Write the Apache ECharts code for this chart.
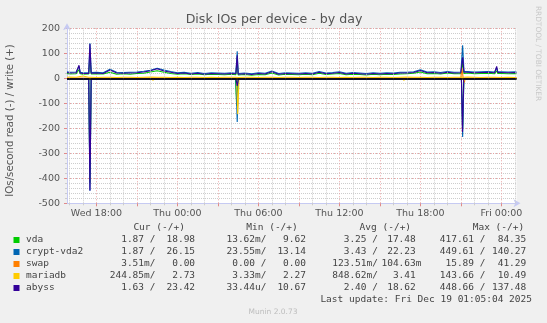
<!DOCTYPE html>
<html>
<head>
<meta charset="utf-8">
<script src="https://cdn.jsdelivr.net/npm/echarts@6/dist/echarts.min.js"></script>
<style>
html,body{margin:0;padding:0;background:#f0f0f0;}
#c{width:547px;height:323px;}
</style>
</head>
<body>
<div id="c"></div>
<script>
// ---- sample times (hours since Wed 00:00) ----
const hours = [15.82,16.0,16.5,17.0,17.5,18.0,18.5,19.0,19.5,20.0,20.5,21.0,21.5,22.0,22.5,23.0,23.5,
  24.0,24.5,25.0,25.5,26.0,26.5,27.0,27.5,28.0,28.5,29.0,29.5,30.0,30.5,31.0,31.5,32.0,32.5,33.0,33.5,
  34.0,34.5,35.0,35.5,36.0,36.5,37.0,37.5,38.0,38.5,39.0,39.5,40.0,40.5,41.0,41.5,42.0,42.5,43.0,43.5,
  44.0,44.5,45.0,45.5,46.0,46.5,47.0,47.5,48.0,48.5,49.0,49.12];

// ---- write (+) baselines ----
const vdaWrite = [19,17,18,16, 16,18,17,24,16, 18,16,19,20, 25,30,24,19, 16,18,15,17,14,16,15,14,16,
  13,15,12,15,14,21, 13,16,15,14,16,14,20,15,17, 19,14,16,15,13,16,14,16,15,17, 18,20,25,18,19,17,21,18,
  18,21,18,19,20,18,19,18,19,18,19];
const cryptWrite = [26,24,25,22, 23,24,22,36,24, 23,24,25,28, 32,40,33,27, 22,24,20,23,19,22,21,20,22,
  19,21,18,22,20,29, 19,22,21,20,22,20,27,21,23, 26,20,23,21,19,22,20,22,21,24, 24,26,34,25,26,23,27,24,
  25,27,25,26,27,25,26,25,26,25,26];
const abyssWrite = [23,21,22,19, 20,21,19,33,21, 20,21,22,25, 30,38,29,24, 19,21,17,20,16,19,18,17,19,
  16,18,15,19,17,26, 16,19,18,17,19,17,24,18,20, 23,17,20,18,16,19,17,19,18,21, 21,23,31,22,23,20,24,21,
  22,24,22,23,24,22,23,22,23,22,23];
const mariadbWrite = [4,5,4,9,4,3,4,4,3,4,4,3,4,5,4,4,3,4,3,4,4,3,4,3,4,4,3,4,4,3,4,4,3,4,4,3,4,4,3,4,
  4,3,4,3,4,4,3,4,4,3,4,5,4,4,3,4,4,3,4,4,5,4,3,4,4,3,4,3,3];

// ---- write spikes [hour, value] ----
const vdaWriteSpikes = [[16.62,18],[16.71,35],[16.8,18],[17.43,17],[17.52,84.35],[17.61,17],
  [28.33,14],[28.43,70],[28.53,14],[45.03,18],[45.13,62],[45.23,19],[47.56,19],[47.65,30],[47.74,19]];
const cryptWriteSpikes = [[16.62,24],[16.71,48],[16.8,24],[17.43,22],[17.52,140.27],[17.61,23],
  [28.33,20],[28.43,108],[28.53,20],[45.03,24],[45.13,132],[45.23,27],[47.56,26],[47.65,42],[47.74,26]];
const abyssWriteSpikes = [[16.62,21],[16.71,52],[16.8,21],[17.43,19],[17.52,137.48],[17.61,20],
  [28.33,18],[28.43,92],[28.53,17],[45.03,21],[45.13,84],[45.23,24],[47.56,23],[47.65,48],[47.74,23]];
const mariadbWriteSpikes = [[17.43,4],[17.52,10.49],[17.61,4],[28.33,4],[28.43,6],[28.53,4],
  [45.03,4],[45.13,8],[45.23,4]];
const swapWrite = [[15.82,0],[44.99,0],[45.08,41.29],[45.17,0],[49.12,0]];

// ---- read (-) values [hour, value] ----
const vdaRead = [[15.82,-3],[17.43,-3],[17.52,-417.61],[17.61,-3],[28.3,-3],[28.39,-110],[28.48,-3],
  [45.04,-3],[45.13,-200],[45.22,-3],[49.12,-1.87]];
const cryptRead = [[15.82,-3.4],[17.43,-3.4],[17.52,-449.61],[17.61,-3.4],[28.34,-3.4],[28.43,-175],[28.52,-3.4],
  [45.04,-3.4],[45.13,-235],[45.22,-3.4],[49.12,-1.87]];
const abyssRead = [[15.82,-2.4],[17.43,-2.4],[17.52,-448.66],[17.61,-2.4],[28.34,-2.4],[28.43,-30],[28.52,-2.4],
  [45.04,-2.4],[45.12,-215],[45.21,-2.4],[49.12,-1.63]];
const mariadbRead = [[15.82,-0.8],[17.1,-0.8],[17.15,-8],[17.2,-0.8],[18.51,-0.8],[18.56,-7],[18.61,-0.8],
  [22.14,-0.8],[22.19,-9],[22.24,-0.8],[22.88,-0.8],[22.93,-7],[22.98,-0.8],[28.38,-0.8],[28.47,-143.66],[28.56,-0.8],
  [31.18,-0.8],[31.23,-8],[31.28,-0.8],[37.92,-0.8],[37.97,-8],[38.02,-0.8],[40.73,-0.8],[40.78,-9],[40.83,-0.8],
  [43.18,-0.8],[43.23,-7],[43.28,-0.8],[45.2,-0.8],[45.25,-10],[45.3,-0.8],[47.7,-0.8],[47.75,-8],[47.8,-0.8],[49.12,-0.25]];
const swapRead = [[15.82,-0.1],[17.84,-0.1],[17.89,-5],[17.94,-0.1],[18.66,-0.1],[18.71,-5],[18.76,-0.1],
  [45.2,-0.1],[45.26,-15.89],[45.32,-0.1],[49.12,0]];

// ---- axes ----
const xMin = 15.82, xMax = 49.12;
const minorHours = [16,17,18,19,20,21,22,23,24,25,26,27,28,29,30,31,32,33,34,35,36,37,38,39,40,41,42,43,44,45,46,47,48,49];
const majorHours = [18,21,24,27,30,33,36,39,42,45,48];
const xLabelHours = [18,24,30,36,42,48];
const xLabels = ['Wed 18:00','Thu 00:00','Thu 06:00','Thu 12:00','Thu 18:00','Fri 00:00'];

// ---- legend table ----
const names = ['vda','crypt-vda2','swap','mariadb','abyss'];
const colors = ['#00cc00','#0066b3','#ff8000','#ffcc00','#330099'];
const headers = ['Cur (-/+)','Min (-/+)','Avg (-/+)','Max (-/+)'];
const curText = [['1.87 /','18.98 '],['1.87 /','26.15 '],['3.51m/','0.00 '],['244.85m/','2.73 '],['1.63 /','23.42 ']];
const minText = [['13.62m/','9.62 '],['23.55m/','13.14 '],['0.00 /','0.00 '],['3.33m/','2.27 '],['33.44u/','10.67 ']];
const avgText = [['3.25 /','17.48 '],['3.43 /','22.23 '],['123.51m/','104.63m'],['848.62m/','3.41 '],['2.40 /','18.62 ']];
const maxText = [['417.61 /','84.35 '],['449.61 /','140.27 '],['15.89 /','41.29 '],['143.66 /','10.49 '],['448.66 /','137.48 ']];
const lastUpdate = 'Last update: Fri Dec 19 01:05:04 2025';

function merge(base, extra){
  return hours.map((h,i)=>[h, base[i]]).concat(extra).sort((a,b)=>a[0]-b[0]);
}

const chart = echarts.init(document.getElementById('c'), null, {renderer:'canvas', width:547, height:323});
const LAV = '#c6caf2';
const MAJ = '#eaa2a2';
const MIN = '#cdcdcd';
const FONT = 'DejaVu Sans';
const MONO = 'DejaVu Sans Mono';

function line(name, data, color){
  return {name, type:'line', xAxisIndex:1, yAxisIndex:1, data, showSymbol:false, symbol:'none',
    lineStyle:{color, width:1.1}, itemStyle:{color}, animation:false, silent:true};
}

const minorOnly = minorHours.filter(h=>majorHours.indexOf(h)<0);

const series = [
  {type:'line', xAxisIndex:1, yAxisIndex:1, data:[], silent:true, animation:false, z:1,
   markLine:{silent:true, symbol:'none', label:{show:false}, animation:false,
     lineStyle:{color:MIN, width:1, type:[1,1]}, data:minorOnly.map(h=>({xAxis:h}))}},
  {type:'line', xAxisIndex:1, yAxisIndex:1, data:[], silent:true, animation:false,
   markLine:{silent:true, symbol:'none', label:{show:false}, animation:false,
     lineStyle:{color:'#000', width:1.6, type:'solid'}, data:[{yAxis:0}]}},
  line('vda', merge(vdaWrite, vdaWriteSpikes), colors[0]),
  line('vda', vdaRead, colors[0]),
  line('crypt-vda2', merge(cryptWrite, cryptWriteSpikes), colors[1]),
  line('crypt-vda2', cryptRead, colors[1]),
  line('swap', swapWrite, colors[2]),
  line('swap', swapRead, colors[2]),
  line('mariadb', merge(mariadbWrite, mariadbWriteSpikes), colors[3]),
  line('mariadb', mariadbRead, colors[3]),
  line('abyss', merge(abyssWrite, abyssWriteSpikes), colors[4]),
  line('abyss', abyssRead, colors[4])
];

// legend graphics
const readEnd = [155.5, 266.5, 378, 485.5];
const writeEnd = [200.8, 311.7, 421.5, 532];
const headerStart = [133.4, 246.3, 359.6, 472.7];
const rowY = [240, 252, 264, 276, 288];
const cols = [curText, minText, avgText, maxText];
const g = [];
const txt = (x,y,text,opts)=>({type:'text', x, y, silent:true, style:Object.assign({text, fill:'#444',
  fontSize:9.5, fontFamily:MONO, align:'left', verticalAlign:'middle'}, opts||{})});
headers.forEach((h,i)=>g.push(txt(headerStart[i], 227.3, h)));
names.forEach((n,r)=>{
  g.push({type:'rect', silent:true, shape:{x:13.5, y:rowY[r]-3, width:6, height:6}, style:{fill:colors[r]}});
  g.push(txt(26, rowY[r], n));
  cols.forEach((col,c)=>{
    g.push(txt(readEnd[c], rowY[r], col[r][0], {align:'right'}));
    g.push(txt(writeEnd[c], rowY[r], col[r][1], {align:'right'}));
  });
});
g.push(txt(532, 299.5, lastUpdate, {align:'right'}));
g.push(txt(273, 312.3, 'Munin 2.0.73', {align:'center', fontFamily:FONT, fontSize:7.5, fill:'#bdbdbd'}));
g.push(txt(274, 19.5, 'Disk IOs per device - by day', {align:'center', fontFamily:FONT, fontSize:12.6, fill:'#555'}));
g.push({type:'text', x:10.5, y:120.5, rotation:Math.PI/2, silent:true,
  style:{text:'IOs/second read (-) / write (+)', fill:'#555', fontSize:10.2, fontFamily:FONT, align:'center', verticalAlign:'middle'}});
g.push({type:'text', x:538, y:53.5, rotation:-Math.PI/2, silent:true,
  style:{text:'RRDTOOL / TOBI OETIKER', fill:'#c8c8c8', fontSize:7.4, fontFamily:FONT, align:'center', verticalAlign:'middle'}});

const option = {
  backgroundColor:'#f0f0f0',
  animation:false,
  grid:{left:67, top:28.3, width:449.5, height:175, show:true, backgroundColor:'#ffffff', borderWidth:0, containLabel:false},
  xAxis:[
    {type:'value', min:xMin, max:xMax, position:'bottom',
     axisLine:{show:false, onZero:false},
     axisTick:{show:true, customValues:minorHours, length:2, lineStyle:{color:'#cccccc'}},
     axisLabel:{show:false},
     splitLine:{show:false}},
    {type:'value', min:xMin, max:xMax, position:'bottom',
     axisLine:{show:true, onZero:false, symbol:['none','arrow'], symbolSize:[6,7], symbolOffset:[0,4],
       lineStyle:{color:LAV, width:1}},
     axisTick:{show:true, customValues:majorHours, length:3, lineStyle:{color:'#e08a8a'}},
     axisLabel:{show:true, customValues:xLabelHours, color:'#555', fontSize:9.5, fontFamily:FONT, margin:5,
       formatter:(v)=>{const i = xLabelHours.findIndex(h=>Math.abs(h-v)<1e-6); return i>=0 ? xLabels[i] : '';}},
     splitLine:{show:true, lineStyle:{color:MAJ, width:1, type:[1,2]}}}
  ],
  yAxis:[
    {type:'value', min:-500, max:200, interval:20, position:'left',
     axisLine:{show:false, onZero:false}, axisTick:{show:true, length:2, lineStyle:{color:'#cccccc'}},
     axisLabel:{show:false},
     splitLine:{show:true, lineStyle:{color:MIN, width:1, type:[1,1]}}},
    {type:'value', min:-500, max:200, interval:100, position:'left',
     axisLine:{show:true, onZero:false, symbol:['none','arrow'], symbolSize:[6,7], symbolOffset:[0,5],
       lineStyle:{color:LAV, width:1}},
     axisTick:{show:true, length:3, lineStyle:{color:'#e08a8a'}},
     axisLabel:{show:true, color:'#555', fontSize:9.5, fontFamily:FONT, margin:7},
     splitLine:{show:true, lineStyle:{color:MAJ, width:1, type:[1,2]}}}
  ],
  series,
  graphic:{elements:g}
};
chart.setOption(option);
</script>
</body>
</html>
